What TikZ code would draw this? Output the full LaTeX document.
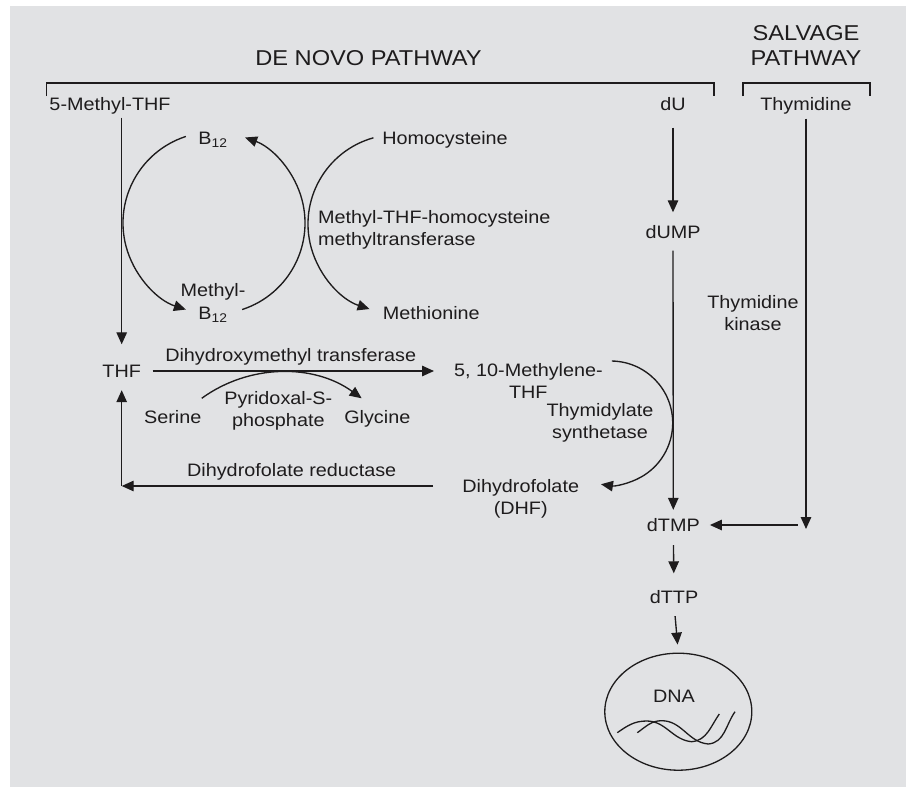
\documentclass[tikz,border=0pt]{standalone}
\usepackage{fontspec}
\setmainfont{Liberation Sans}[FakeStretch=1.1]
\usetikzlibrary{arrows.meta,shapes.geometric,calc}
\definecolor{bg}{RGB}{225,226,228}
\definecolor{ink}{RGB}{30,28,29}
\begin{document}
\begin{tikzpicture}[x=1pt,y=1pt,
  lbl/.style={inner sep=0pt, text height=13pt, text depth=0pt, font=\fontsize{18}{22}\selectfont, text=ink},
  hdr/.style={inner sep=0pt, text height=15pt, text depth=0pt, font=\fontsize{21.5}{25}\selectfont, text=ink},
  arr/.style={draw=ink, line width=1.35pt, -{Triangle[length=12pt,width=10.5pt]}},
  ln/.style={draw=ink, line width=1.3pt},
  brk/.style={draw=ink, line width=1.7pt},
]
\useasboundingbox (0,0) rectangle (908,-787);
\fill[bg] (10,-6) rectangle (906,-787);

% headers
\node[hdr] (salv1) at (806,-33) {SALVAGE};
\node[hdr] (salv2) at (806,-58) {PATHWAY};
\node[hdr] (denovo) at (368.5,-58) {DE NOVO PATHWAY};
\draw[brk] (46.5,-96) |- (714,-83) -- (714,-96);
\draw[brk] (743,-96) |- (870,-83) -- (870,-96);

% labels
\node[lbl] (mthf) at (110,-104) {5-Methyl-THF};
\node[lbl] (du) at (673,-104) {dU};
\node[lbl] (thy) at (806,-104) {Thymidine};
\node[lbl] (b12) at (213,-138) {B\textsubscript{12}};
\node[lbl] (homo) at (445,-138) {Homocysteine};
\node[lbl, anchor=west] (mt1) at (318,-217) {Methyl-THF-homocysteine};
\node[lbl, anchor=west] (mt2) at (318,-239) {methyltransferase};
\node[lbl] (dump) at (673,-232) {dUMP};
\node[lbl] (mb1) at (213,-290) {Methyl-};
\node[lbl] (mb12) at (213,-313) {B\textsubscript{12}};
\node[lbl, anchor=west] (meth) at (382.7,-313) {Methionine};
\node[lbl] (tk1) at (753,-302) {Thymidine};
\node[lbl] (tk2) at (753,-324) {kinase};
\node[lbl] (thf) at (121.7,-371) {THF};
\node[lbl] (dhtl) at (290.7,-355) {Dihydroxymethyl transferase};
\node[lbl, anchor=west] (mth1) at (454,-370) {5, 10-Methylene-};
\node[lbl] (mth2) at (528.3,-392) {THF};
\node[lbl] (pyr1) at (278.3,-398) {Pyridoxal-S-};
\node[lbl] (pyr2) at (278.3,-420) {phosphate};
\node[lbl] (ser) at (172.7,-417) {Serine};
\node[lbl] (gly) at (377.3,-417) {Glycine};
\node[lbl] (ts1) at (600,-410) {Thymidylate};
\node[lbl] (ts2) at (600,-432) {synthetase};
\node[lbl] (dfr) at (291.7,-470) {Dihydrofolate reductase};
\node[lbl] (dhf) at (520.7,-486) {Dihydrofolate};
\node[lbl] (dhf2) at (520.7,-508) {(DHF)};
\node[lbl] (dtmp) at (673.3,-525) {dTMP};
\node[lbl] (dttp) at (674,-597) {dTTP};
\node[draw=ink, line width=1.3pt, ellipse, minimum width=147pt, minimum height=117pt, inner sep=0pt] (cell) at (678.3,-711.7) {};
\node[lbl] (dna) at (674,-696) {DNA};

% straight arrows
\draw[arr, shorten <=7pt, shorten >=20pt] (thf.north |- mthf.south) -- (thf.north);
\draw[arr, shorten <=11.5pt, shorten >=20pt] (thf.east) -- (thf.east -| mth1.west);
\coordinate (corner) at (thf.south |- dhf.west);
\draw[arr, shorten <=29pt] (dhf.west) -- (corner);
\draw[arr, shorten >=12.5pt] (corner) -- (thf.south);
\draw[arr, shorten <=17pt, shorten >=13pt] (du.south) -- (dump.north);
\draw[arr, shorten <=12pt, shorten >=8.5pt] (dump.south) -- (dtmp.north);
\coordinate (kend) at (thy.south |- dtmp.east);
\draw[arr, shorten <=8pt] (thy.south) -- ([yshift=-4pt]kend);
\draw[arr, shorten <=8.5pt, shorten >=10pt] (kend) -- (dtmp.east);
\draw[arr, shorten <=13.5pt, shorten >=17pt] (dtmp.south) -- (dttp.north);
\draw[arr, shorten <=12.5pt, shorten >=8pt] (dttp.south) -- (cell.north);

% arcs
\coordinate (cL) at (214,-223);
\coordinate (cH) at (397.5,-224);
\coordinate (cT) at (610.7,-423);
\coordinate (cS) at (281.7,-508.3);
\draw[arr] ($(cL)+(108:91)$) arc[start angle=108, end angle=252, radius=91];
\draw[arr] ($(cL)+(-72:91)$) arc[start angle=-72, end angle=70, radius=91];
\draw[arr] ($(cH)+(105.6:89.5)$) arc[start angle=105.6, end angle=251.8, radius=89.5];
\draw[arr] ($(cT)+(89:62)$) arc[start angle=89, end angle=-99, radius=62];
\draw[arr] ($(cS)+(126:136)$) arc[start angle=126, end angle=54, radius=136];

% DNA strands
\draw[ln] (617.3,-732.7) to[out=35,in=180] (646.7,-721) to[out=0,in=175] (691.7,-741.7) to[out=5,in=235] (719.3,-714);
\draw[ln] (637.3,-732.7) to[out=35,in=180] (661.7,-720.7) to[out=0,in=175] (708.3,-744) to[out=5,in=235] (735,-711.7);
\end{tikzpicture}
\end{document}
